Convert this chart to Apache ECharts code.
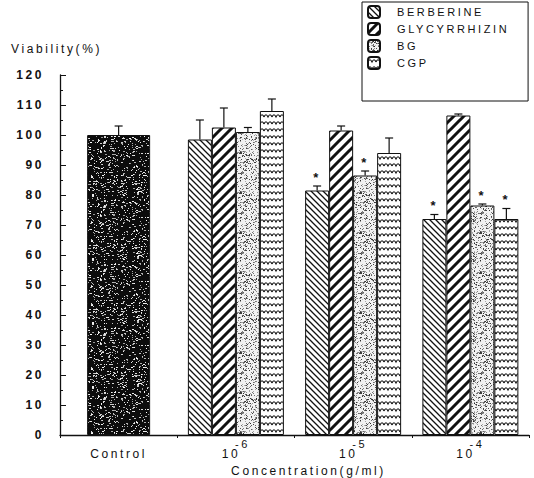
<!DOCTYPE html>
<html><head><meta charset="utf-8">
<script src="https://cdn.jsdelivr.net/npm/echarts@6/dist/echarts.min.js"></script>
<style>
html,body{margin:0;padding:0;background:#fff}
#chart{width:534px;height:478px}
#chart text{letter-spacing:2.6px}
</style>
</head><body><div id="chart"></div><script>
// ---- data ----
const categories = ['Control', '10^-6', '10^-5', '10^-4'];
const seriesNames = ['BERBERINE', 'GLYCYRRHIZIN', 'BG', 'CGP'];
const controlValue = [100];
const controlError = [103];
const berberine = [98.5, 81.5, 72];
const berberineErr = [105, 83, 73.5];
const glycyrrhizin = [102.5, 101.5, 106.5];
const glycyrrhizinErr = [109, 103, 107];
const bg = [101, 86.5, 76.5];
const bgErr = [102.5, 88, 77];
const cgp = [108, 94, 72];
const cgpErr = [112, 99, 75.5];
const berberineSig = [0, 1, 1];
const glycyrrhizinSig = [0, 0, 0];
const bgSig = [0, 1, 1];
const cgpSig = [0, 0, 1];
const yTicks = [0, 120, 10];

// ---- textures ----
function hash(i) { const x = Math.sin(i * 12.9898 + 78.233) * 43758.5453; return x - Math.floor(x); }
function mk(w, h, draw) { const c = document.createElement('canvas'); c.width = w; c.height = h; const g = c.getContext('2d'); draw(g, w, h); return c; }
const texControl = mk(64, 64, (g, w, h) => {
  g.fillStyle = '#0c0c0c'; g.fillRect(0, 0, w, h);
  for (let k = 0; k < 520; k++) {
    const x = Math.floor(hash(k) * w), y = Math.floor(hash(k + 5000) * h);
    const v = 150 + Math.floor(hash(k + 9000) * 105);
    g.fillStyle = 'rgb(' + v + ',' + v + ',' + v + ')';
    g.fillRect(x, y, hash(k + 300) > 0.7 ? 2 : 1, 1);
  }
});
const texBerb = mk(6, 6, (g, w, h) => {
  g.fillStyle = '#fff'; g.fillRect(0, 0, w, h);
  g.strokeStyle = '#111'; g.lineWidth = 1.3;
  g.beginPath(); g.moveTo(-1, -1); g.lineTo(w + 1, h + 1); g.moveTo(-1, h - 1); g.lineTo(1, h + 1); g.moveTo(w - 1, -1); g.lineTo(w + 1, 1); g.stroke();
});
const texGly = mk(10, 10, (g, w, h) => {
  g.fillStyle = '#fff'; g.fillRect(0, 0, w, h);
  g.strokeStyle = '#111'; g.lineWidth = 3;
  g.beginPath(); g.moveTo(-2, h + 2); g.lineTo(w + 2, -2); g.moveTo(-2, 2); g.lineTo(2, -2); g.moveTo(w - 2, h + 2); g.lineTo(w + 2, h - 2); g.stroke();
});
const texBG = mk(40, 40, (g, w, h) => {
  g.fillStyle = '#f2f2f2'; g.fillRect(0, 0, w, h);
  for (let k = 0; k < 520; k++) {
    const x = Math.floor(hash(k + 777) * w), y = Math.floor(hash(k + 3333) * h);
    const v = 40 + Math.floor(hash(k + 1234) * 150);
    g.fillStyle = 'rgb(' + v + ',' + v + ',' + v + ')';
    g.fillRect(x, y, 1, 1);
  }
});
const texCGP = mk(8, 7, (g, w, h) => {
  g.fillStyle = '#fff'; g.fillRect(0, 0, w, h);
  g.strokeStyle = '#111'; g.lineWidth = 1.1;
  g.beginPath(); g.moveTo(0, 5); g.quadraticCurveTo(2, 0.5, 4, 5); g.quadraticCurveTo(6, 0.5, 8, 5); g.stroke();
});
function pat(c) { return { image: c, repeat: 'repeat', imageWidth: c.width, imageHeight: c.height }; }

const groupVals = [berberine, glycyrrhizin, bg, cgp];
const groupErrs = [berberineErr, glycyrrhizinErr, bgErr, cgpErr];
const groupSig = [berberineSig, glycyrrhizinSig, bgSig, cgpSig];
const groupTex = [texBerb, texGly, texBG, texCGP];
const BAR_W = 24;

const chart = echarts.init(document.getElementById('chart'), null, { renderer: 'svg' });

const barSeries = seriesNames.map((n, i) => ({
  name: n, type: 'bar', xAxisIndex: 1, barWidth: BAR_W, barGap: '0%',
  data: ['-'].concat(groupVals[i]),
  itemStyle: { color: pat(groupTex[i]), borderColor: '#111', borderWidth: 1 },
  emphasis: { disabled: true }
}));

const errData = [];
seriesNames.forEach((n, i) => {
  groupVals[i].forEach((v, j) => {
    errData.push([categories[j + 1], v, groupErrs[i][j], i, groupSig[i][j]]);
  });
});

function renderErr(offsetFn) {
  return function (params, api) {
    const v = api.value(1), e = api.value(2), s = api.value(3), sig = api.value(4);
    const p0 = api.coord([api.value(0), v]);
    const p1 = api.coord([api.value(0), e]);
    const x = p0[0] + offsetFn(s);
    const ch = [
      { type: 'line', shape: { x1: x, y1: p0[1], x2: x, y2: p1[1] }, style: { stroke: '#111', lineWidth: 1.2 } },
      { type: 'line', shape: { x1: x - 4, y1: p1[1], x2: x + 4, y2: p1[1] }, style: { stroke: '#111', lineWidth: 1.2 } }
    ];
    if (sig) ch.push({ type: 'text', style: { text: '*', x: x, y: p1[1] - 9, align: 'center', verticalAlign: 'middle', font: 'bold 13px "Liberation Sans", Arial', fill: '#111' } });
    return { type: 'group', children: ch };
  };
}

chart.setOption({
  animation: false,
  textStyle: { fontFamily: '"Liberation Sans", Arial, sans-serif', color: '#111' },
  title: { text: 'Viability(%)', left: 6, top: 38, textStyle: { fontSize: 12, fontWeight: 'normal', color: '#111' } },
  legend: {
    orient: 'vertical', left: 362, top: 2,
    data: seriesNames,
    borderColor: '#111', borderWidth: 1,
    padding: [3, 50, 31, 5], itemGap: 3, itemWidth: 12, itemHeight: 12,
    textStyle: { fontSize: 11, lineHeight: 13, color: '#111', padding: [0, 0, 0, 12] }
  },
  grid: { left: 60, right: 5, top: 75, bottom: 43, outerBoundsMode: 'none' },
  xAxis: [{
    type: 'category', data: categories,
    axisLine: { lineStyle: { color: '#111', width: 1.3 } },
    axisTick: { show: true, length: 3, lineStyle: { color: '#111' } },
    axisLabel: {
      margin: 3, fontSize: 12, color: '#111',
      formatter: function (c) {
        if (c.indexOf('^') < 0) return '{b|' + c + '}';
        const p = c.split('^');
        return '{b|' + p[0] + '}{s|' + p[1] + '}';
      },
      rich: {
        b: { fontSize: 12, lineHeight: 22, verticalAlign: 'bottom', color: '#111' },
        s: { fontSize: 11, lineHeight: 22, verticalAlign: 'top', color: '#111' }
      }
    },
    name: 'Concentration(g/ml)', nameLocation: 'middle', nameGap: 29,
    nameTextStyle: { fontSize: 12, color: '#111', padding: [0, 0, 0, 28] }
  }, {
    type: 'category', data: categories, show: false
  }],
  yAxis: {
    type: 'value', min: yTicks[0], max: yTicks[1], interval: yTicks[2],
    axisLine: { show: true, lineStyle: { color: '#111', width: 1.3 } },
    axisTick: { show: true, inside: true, length: 6, lineStyle: { color: '#111' } },
    minorTick: { show: true, splitNumber: 2, length: 3, lineStyle: { color: '#111' } },
    splitLine: { show: false },
    axisLabel: { margin: 16, fontSize: 12, fontWeight: 'bold', color: '#111' }
  },
  series: [{
    name: 'Control', type: 'bar', xAxisIndex: 0, barWidth: 63,
    data: controlValue.concat(['-', '-', '-']),
    itemStyle: { color: pat(texControl), borderColor: '#111', borderWidth: 1 },
    emphasis: { disabled: true }
  }].concat(barSeries).concat([{
    type: 'custom', xAxisIndex: 1, z: 5,
    renderItem: renderErr(s => (s - 1.5) * BAR_W),
    data: errData
  }, {
    type: 'custom', xAxisIndex: 0, z: 5,
    renderItem: renderErr(s => 0),
    data: [[categories[0], controlValue[0], controlError[0], 0, 0]]
  }])
});
</script></body></html>
